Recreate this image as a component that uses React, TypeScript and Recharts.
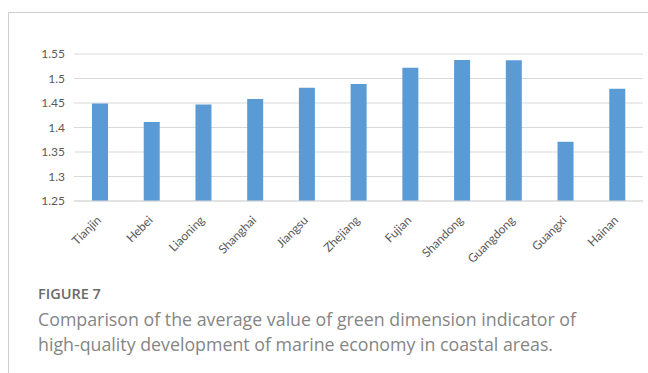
import React from "react";
import { BarChart, Bar, XAxis, YAxis, CartesianGrid } from "recharts";

// Average green-dimension indicator by coastal province
const regions = [
  "Tianjin",
  "Hebei",
  "Liaoning",
  "Shanghai",
  "Jiangsu",
  "Zhejiang",
  "Fujian",
  "Shandong",
  "Guangdong",
  "Guangxi",
  "Hainan",
];
const greenValues = [1.449, 1.411, 1.447, 1.458, 1.481, 1.489, 1.522, 1.538, 1.537, 1.371, 1.479];
const yTicks = [1.25, 1.3, 1.35, 1.4, 1.45, 1.5, 1.55];

const data = regions.map((name, i) => ({ name, value: greenValues[i] }));

const axisFont = "Lato, 'Open Sans', sans-serif";

const RotatedTick = (props: any) => {
  const { x, y, payload } = props;
  return (
    <g transform={`translate(${x - 1},${y + 9})`}>
      <text
        transform="rotate(-45)"
        textAnchor="end"
        dy="0.35em"
        fill="#595959"
        fontSize={12}
        fontFamily={axisFont}
      >
        {payload.value}
      </text>
    </g>
  );
};

export default function App() {
  return (
    <div
      style={{
        position: "absolute",
        left: 0,
        top: 0,
        width: 648,
        height: 373,
        background: "#fff",
        overflow: "hidden",
      }}
    >
      <div
        style={{
          position: "absolute",
          left: 8,
          top: 12,
          width: 640,
          height: 361,
          borderLeft: "1px solid #cfcfcf",
          borderTop: "1px solid #cfcfcf",
          boxSizing: "border-box",
        }}
      />
      <div style={{ position: "absolute", left: 0, top: 0 }}>
        <BarChart
          width={648}
          height={300}
          data={data}
          margin={{ top: 54, right: 5, left: 0, bottom: 0 }}
        >
          <CartesianGrid vertical={false} stroke="#d9d9d9" />
          <XAxis
            dataKey="name"
            height={99}
            interval={0}
            tickLine={false}
            axisLine={{ stroke: "#d9d9d9" }}
            tick={<RotatedTick />}
          />
          <YAxis
            width={74}
            domain={[1.25, 1.55]}
            ticks={yTicks}
            allowDataOverflow
            axisLine={false}
            tickLine={false}
            tickMargin={3}
            tick={{ fill: "#595959", fontSize: 12, fontFamily: axisFont }}
          />
          <Bar dataKey="value" fill="#5b9bd5" barSize={16} isAnimationActive={false} />
        </BarChart>
      </div>
      <div
        style={{
          position: "absolute",
          left: 38,
          top: 285,
          fontFamily: "'Open Sans', sans-serif",
        }}
      >
        <div style={{ fontSize: 14.5, fontWeight: 600, color: "#6a6a6a", lineHeight: "18px" }}>
          FIGURE 7
        </div>
        <div
          style={{
            fontSize: 17.8,
            lineHeight: "25px",
            color: "#858585",
            marginTop: 4,
            whiteSpace: "nowrap",
          }}
        >
          Comparison of the average value of green dimension indicator of
          <br />
          high-quality development of marine economy in coastal areas.
        </div>
      </div>
    </div>
  );
}
